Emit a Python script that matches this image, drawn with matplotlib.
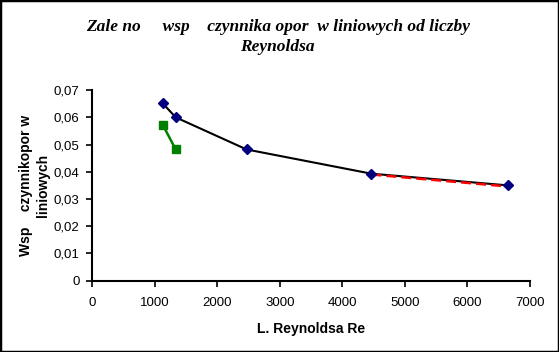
import matplotlib
matplotlib.use("Agg")
import matplotlib.pyplot as plt
from matplotlib.patches import Rectangle

# data
re_main = [1129, 1335, 2469, 4465, 6649]
lam_main = [0.0651, 0.0600, 0.0482, 0.0393, 0.0350]

re_green = [1129, 1335]
lam_green = [0.0572, 0.0482]

re_red = [4465, 6649]
lam_red = [0.0390, 0.0346]

x_ticks = [0, 1000, 2000, 3000, 4000, 5000, 6000, 7000]
y_ticks = [0, 0.01, 0.02, 0.03, 0.04, 0.05, 0.06, 0.07]
y_tick_labels = ["0", "0,01", "0,02", "0,03", "0,04", "0,05", "0,06", "0,07"]

plt.rcParams["font.family"] = ["Liberation Sans", "DejaVu Sans"]

fig = plt.figure(figsize=(5.59, 3.52), dpi=100)
ax = fig.add_axes([0.165, 0.2026, 0.783, 0.5414])

ax.plot(re_main, lam_main, color="black", lw=1.5, zorder=2)
ax.plot(re_red, lam_red, color="red", lw=1.8, ls=(0, (4, 2)), zorder=3)
ax.plot(re_main, lam_main, ls="none", marker="D", ms=5.5, color="#000080", zorder=4)
ax.plot(re_green, lam_green, color="#008000", lw=1.8, marker="s", ms=6, zorder=4)

ax.set_xlim(0, 7000)
ax.set_ylim(0, 0.07)
ax.set_xticks(x_ticks)
ax.set_yticks(y_ticks)
ax.set_yticklabels(y_tick_labels)
ax.tick_params(labelsize=9.5, length=4, width=1.2, direction="out")
ax.tick_params(axis="x", pad=8)
ax.tick_params(axis="y", pad=5)
ax.spines["top"].set_visible(False)
ax.spines["right"].set_visible(False)
ax.spines["left"].set_linewidth(1.5)
ax.spines["bottom"].set_linewidth(1.5)

ax.set_xlabel("L. Reynoldsa Re", fontsize=10, fontweight="bold", labelpad=9)
ax.set_ylabel("Wsp    czynnikopor w\nliniowych", fontsize=10, fontweight="bold",
              labelpad=3, linespacing=1.25)

fig.text(0.497, 0.895, "Zale no     wsp    czynnika opor  w liniowych od liczby\nReynoldsa",
         ha="center", va="center", fontsize=12.5, fontweight="bold", fontstyle="italic",
         family=["Liberation Serif", "DejaVu Serif"], linespacing=1.4)

fig.patches.append(Rectangle((0, 0), 1, 1, transform=fig.transFigure, fill=False,
                             edgecolor="black", lw=2.5))

fig.savefig("out.png", dpi=100)
